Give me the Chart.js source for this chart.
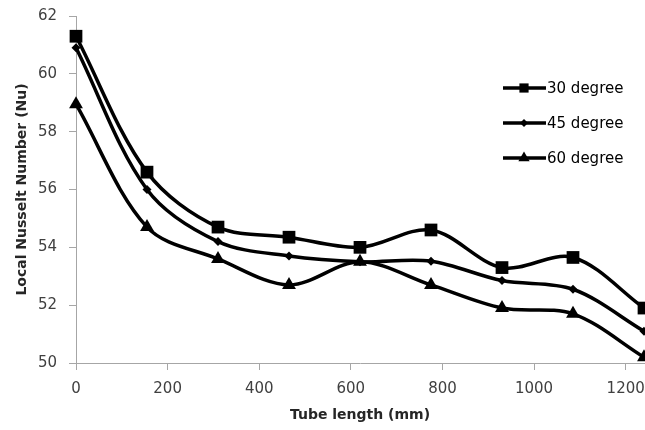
<!DOCTYPE html>
<html>
<head>
<meta charset="utf-8">
<script src="https://cdn.jsdelivr.net/npm/chart.js@4.4.9/dist/chart.umd.min.js"></script>
<style>
  html, body { margin: 0; padding: 0; background: #ffffff; }
  #wrap { width: 645px; height: 430px; position: relative; }
</style>
</head>
<body>
<div id="wrap"><canvas id="nusseltChart"></canvas></div>
<script>
// tube length positions (mm)
const tubeLength = [0, 155, 310, 465, 620, 775, 930, 1085, 1240];
const seriesNames = ['30 degree', '45 degree', '60 degree'];
const nu30 = [61.3, 56.6, 54.7, 54.35, 54.0, 54.6, 53.3, 53.65, 51.9];
const nu45 = [60.9, 56.0, 54.2, 53.7, 53.5, 53.52, 52.85, 52.55, 51.1];
const nu60 = [58.95, 54.7, 53.6, 52.7, 53.5, 52.7, 51.9, 51.7, 50.2];
const yTicks = [50, 52, 54, 56, 58, 60, 62];
const xTicks = [0, 200, 400, 600, 800, 1000, 1200];

const toPoints = values => values.map((v, i) => ({ x: tubeLength[i], y: v }));

const markers = [
    { style: 'rect', radius: 9, legendRadius: 6.5 },
    { style: 'rectRot', radius: 4.5, legendRadius: 4 },
    { style: 'triangle', radius: 8, legendRadius: 6.5 }
];

function drawMarker(ctx, style, r, x, y) {
    ctx.beginPath();
    if (style === 'rect') {
        const s = Math.SQRT1_2 * r;
        ctx.rect(x - s, y - s, 2 * s, 2 * s);
    } else if (style === 'rectRot') {
        ctx.moveTo(x, y - r);
        ctx.lineTo(x + r, y);
        ctx.lineTo(x, y + r);
        ctx.lineTo(x - r, y);
        ctx.closePath();
    } else {
        ctx.moveTo(x, y - r);
        ctx.lineTo(x + 0.866 * r, y + r / 2);
        ctx.lineTo(x - 0.866 * r, y + r / 2);
        ctx.closePath();
    }
    ctx.fill();
}

// legend sitting inside the plot, right side
const sideLegend = {
    id: 'sideLegend',
    afterDraw(chart) {
        const ctx = chart.ctx;
        ctx.save();
        ctx.fillStyle = '#000000';
        ctx.strokeStyle = '#000000';
        ctx.lineWidth = 3.5;
        ctx.font = "15px 'DejaVu Sans'";
        ctx.textBaseline = 'middle';
        seriesNames.forEach((name, i) => {
            const y = 88 + i * 35;
            ctx.beginPath();
            ctx.moveTo(503, y);
            ctx.lineTo(546, y);
            ctx.stroke();
            drawMarker(ctx, markers[i].style, markers[i].legendRadius, 524, y);
            ctx.fillText(name, 547, y + 1);
        });
        ctx.restore();
    }
};

const axisGrey = '#a6a6a6';
const plainTick = value => String(value);

new Chart(document.getElementById('nusseltChart'), {
    type: 'line',
    data: {
        datasets: [nu30, nu45, nu60].map((values, i) => ({
            label: seriesNames[i],
            data: toPoints(values),
            borderColor: '#000000',
            backgroundColor: '#000000',
            borderWidth: 3.5,
            tension: 0.33,
            pointStyle: markers[i].style,
            pointRadius: markers[i].radius,
            pointHoverRadius: markers[i].radius,
            pointBorderWidth: 0,
            pointBackgroundColor: '#000000',
            clip: false
        }))
    },
    options: {
        responsive: true,
        maintainAspectRatio: false,
        animation: false,
        events: [],
        layout: { autoPadding: false, padding: { top: 16, right: 1, left: 0, bottom: 0 } },
        plugins: { legend: { display: false }, tooltip: { enabled: false } },
        scales: {
            x: {
                type: 'linear',
                min: 0,
                max: 1240,
                afterBuildTicks: scale => { scale.ticks = xTicks.map(v => ({ value: v })); },
                afterFit: scale => {
                    scale.height = 67;
                    scale.paddingLeft = 0;
                    scale.paddingRight = 0;
                },
                ticks: { color: '#404040', font: { family: "'DejaVu Sans'", size: 15 }, padding: 10, maxRotation: 0, callback: plainTick },
                grid: { drawOnChartArea: false, color: axisGrey, tickLength: 7 },
                border: { color: axisGrey, width: 1 },
                title: {
                    display: true,
                    text: 'Tube length (mm)',
                    color: '#262626',
                    font: { family: "'DejaVu Sans'", size: 14, weight: 'bold' },
                    padding: { top: 0, bottom: 6 }
                }
            },
            y: {
                min: 50,
                max: 62,
                afterBuildTicks: scale => { scale.ticks = yTicks.map(v => ({ value: v })); },
                afterFit: scale => {
                    scale.width = 76;
                    scale.paddingTop = 0;
                    scale.paddingBottom = 0;
                },
                ticks: { color: '#404040', font: { family: "'DejaVu Sans'", size: 15 }, padding: 12, callback: plainTick },
                grid: { drawOnChartArea: false, color: axisGrey, tickLength: 7 },
                border: { color: axisGrey, width: 1 },
                title: {
                    display: true,
                    text: 'Local Nusselt Number (Nu)',
                    color: '#262626',
                    font: { family: "'DejaVu Sans'", size: 14, weight: 'bold' },
                    padding: { top: 14, bottom: 0 }
                }
            }
        }
    },
    plugins: [sideLegend]
});
</script>
</body>
</html>
